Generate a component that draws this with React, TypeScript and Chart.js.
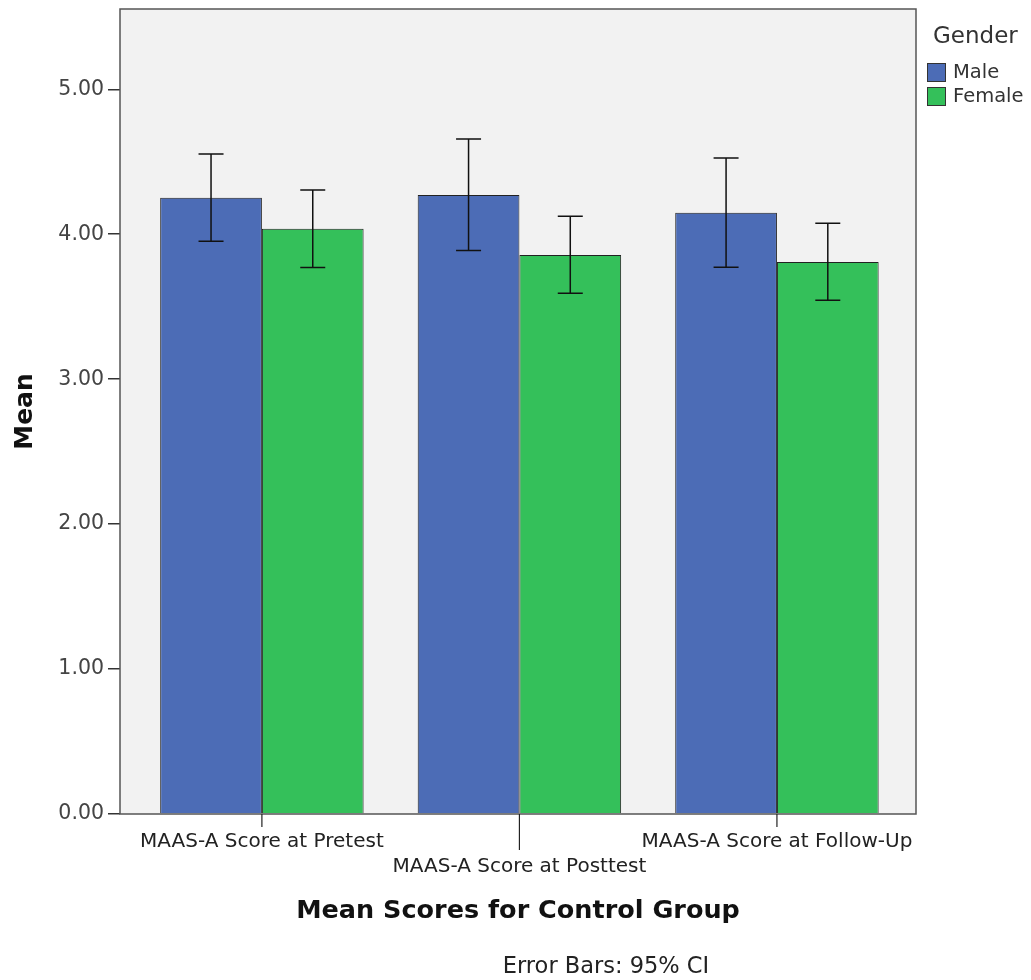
import React, { useEffect, useRef } from "react";
import { Chart, registerables } from "chart.js";

Chart.register(...registerables);

const categories = ["MAAS-A Score at Pretest", "MAAS-A Score at Posttest", "MAAS-A Score at Follow-Up"];
const categoryPositions = [1, 2, 3];
const maleMeans = [4.252, 4.271, 4.149];
const maleLow = [3.952, 3.887, 3.772];
const maleHigh = [4.554, 4.657, 4.526];
const femaleMeans = [4.037, 3.857, 3.809];
const femaleLow = [3.77, 3.593, 3.545];
const femaleHigh = [4.306, 4.124, 4.076];
const yTicks = [0, 1, 2, 3, 4, 5];

const FONT = '"DejaVu Sans", "Open Sans", sans-serif';
const BLUE = "rgb(76,108,182)";
const GREEN = "rgb(52,192,90)";

const lowHigh = [
  { low: maleLow, high: maleHigh },
  { low: femaleLow, high: femaleHigh },
];

const customPlugin = {
  id: "spssDecor",
  beforeDatasetsDraw(chart: any) {
    const { ctx, chartArea } = chart;
    ctx.save();
    ctx.fillStyle = "#f2f2f2";
    ctx.fillRect(chartArea.left, chartArea.top, chartArea.right - chartArea.left, chartArea.bottom - chartArea.top);
    ctx.restore();
  },
  afterDatasetsDraw(chart: any) {
    const { ctx, scales } = chart;
    const y = scales.y;
    ctx.save();
    ctx.strokeStyle = "#111";
    ctx.lineWidth = 1.5;
    lowHigh.forEach((lh, di) => {
      const meta = chart.getDatasetMeta(di);
      meta.data.forEach((bar: any, i: number) => {
        const x = bar.x;
        const yl = y.getPixelForValue(lh.low[i]);
        const yh = y.getPixelForValue(lh.high[i]);
        ctx.beginPath();
        ctx.moveTo(x, yl);
        ctx.lineTo(x, yh);
        ctx.moveTo(x - 12.5, yl);
        ctx.lineTo(x + 12.5, yl);
        ctx.moveTo(x - 12.5, yh);
        ctx.lineTo(x + 12.5, yh);
        ctx.stroke();
      });
    });
    ctx.restore();
  },
  afterDraw(chart: any) {
    const { ctx, chartArea, scales } = chart;
    ctx.save();
    // frame
    ctx.strokeStyle = "#555";
    ctx.lineWidth = 1.5;
    ctx.strokeRect(chartArea.left, chartArea.top, chartArea.right - chartArea.left, chartArea.bottom - chartArea.top);
    // x tick marks
    ctx.strokeStyle = "#222";
    ctx.lineWidth = 1.2;
    categoryPositions.forEach((v, i) => {
      const px = scales.x.getPixelForValue(v);
      ctx.beginPath();
      ctx.moveTo(px, chartArea.bottom);
      ctx.lineTo(px, chartArea.bottom + (i === 1 ? 36 : 13));
      ctx.stroke();
    });
    // legend
    ctx.fillStyle = "#333";
    ctx.textBaseline = "middle";
    ctx.textAlign = "left";
    ctx.font = `23px ${FONT}`;
    ctx.fillText("Gender", 933, 37);
    const items = [
      { label: "Male", color: BLUE, y: 63 },
      { label: "Female", color: GREEN, y: 87 },
    ];
    items.forEach((it) => {
      ctx.fillStyle = it.color;
      ctx.fillRect(927, it.y, 19, 19);
      ctx.strokeStyle = "#333";
      ctx.lineWidth = 1;
      ctx.strokeRect(927.5, it.y + 0.5, 18, 18);
      ctx.fillStyle = "#333";
      ctx.font = `19.5px ${FONT}`;
      ctx.fillText(it.label, 953, it.y + 10);
    });
    // footnote
    ctx.fillStyle = "#222";
    ctx.font = `22.5px ${FONT}`;
    ctx.textAlign = "center";
    ctx.fillText("Error Bars: 95% CI", 606, 967);
    ctx.restore();
  },
};

export default function App() {
  const ref = useRef<HTMLCanvasElement | null>(null);
  useEffect(() => {
    document.body.style.margin = "0";
    const chart = new Chart(ref.current as HTMLCanvasElement, {
      type: "bar",
      data: {
        datasets: [
          {
            label: "Male",
            data: categoryPositions.map((x, i) => ({ x, y: maleMeans[i] })),
            backgroundColor: BLUE,
            borderColor: "#222",
            borderWidth: 1,
          },
          {
            label: "Female",
            data: categoryPositions.map((x, i) => ({ x, y: femaleMeans[i] })),
            backgroundColor: GREEN,
            borderColor: "#222",
            borderWidth: 1,
          },
        ],
      },
      options: {
        responsive: false,
        animation: false,
        devicePixelRatio: 1,
        layout: { padding: { top: 9, right: 115, left: 0, bottom: 0 } },
        datasets: { bar: { categoryPercentage: 0.79, barPercentage: 1 } },
        plugins: { legend: { display: false }, tooltip: { enabled: false } },
        scales: {
          x: {
            type: "linear",
            min: 0.449,
            max: 3.54,
            offset: false,
            afterBuildTicks: (s: any) => {
              s.ticks = categoryPositions.map((v) => ({ value: v }));
            },
            afterFit: (s: any) => {
              s.height = 166;
              s.paddingLeft = 0;
              s.paddingRight = 0;
            },
            grid: { display: true, drawOnChartArea: false, drawTicks: false },
            border: { display: false },
            ticks: {
              autoSkip: false,
              maxRotation: 0,
              minRotation: 0,
              padding: 16,
              color: "#222",
              font: { family: FONT, size: 20, lineHeight: 1.22 },
              callback: (v: any) => {
                const i = categoryPositions.indexOf(Number(v));
                if (i < 0) return "";
                return i === 1 ? ["", categories[i]] : categories[i];
              },
            },
            title: {
              display: true,
              text: "Mean Scores for Control Group",
              color: "#111",
              font: { family: FONT, size: 25.5, weight: "bold", lineHeight: 1.2 },
              padding: { top: 0, bottom: 53 },
            },
          },
          y: {
            min: 0,
            max: 5.554,
            afterBuildTicks: (s: any) => {
              s.ticks = yTicks.map((v) => ({ value: v }));
            },
            afterFit: (s: any) => {
              s.width = 120;
              s.paddingTop = 0;
              s.paddingBottom = 0;
            },
            grid: { drawOnChartArea: false, drawTicks: true, tickLength: 12, color: "#333", lineWidth: 1.5 },
            border: { display: false },
            ticks: {
              padding: 4,
              color: "#444",
              font: { family: FONT, size: 20.5 },
              callback: (v: any) => Number(v).toFixed(2),
            },
            title: {
              display: true,
              text: "Mean",
              color: "#111",
              font: { family: FONT, size: 25, weight: "bold" },
              padding: { top: 10, bottom: 0 },
            },
          },
        },
      },
      plugins: [customPlugin],
    } as any);
    return () => chart.destroy();
  }, []);
  return <canvas ref={ref} width={1031} height={980} style={{ display: "block" }} />;
}
